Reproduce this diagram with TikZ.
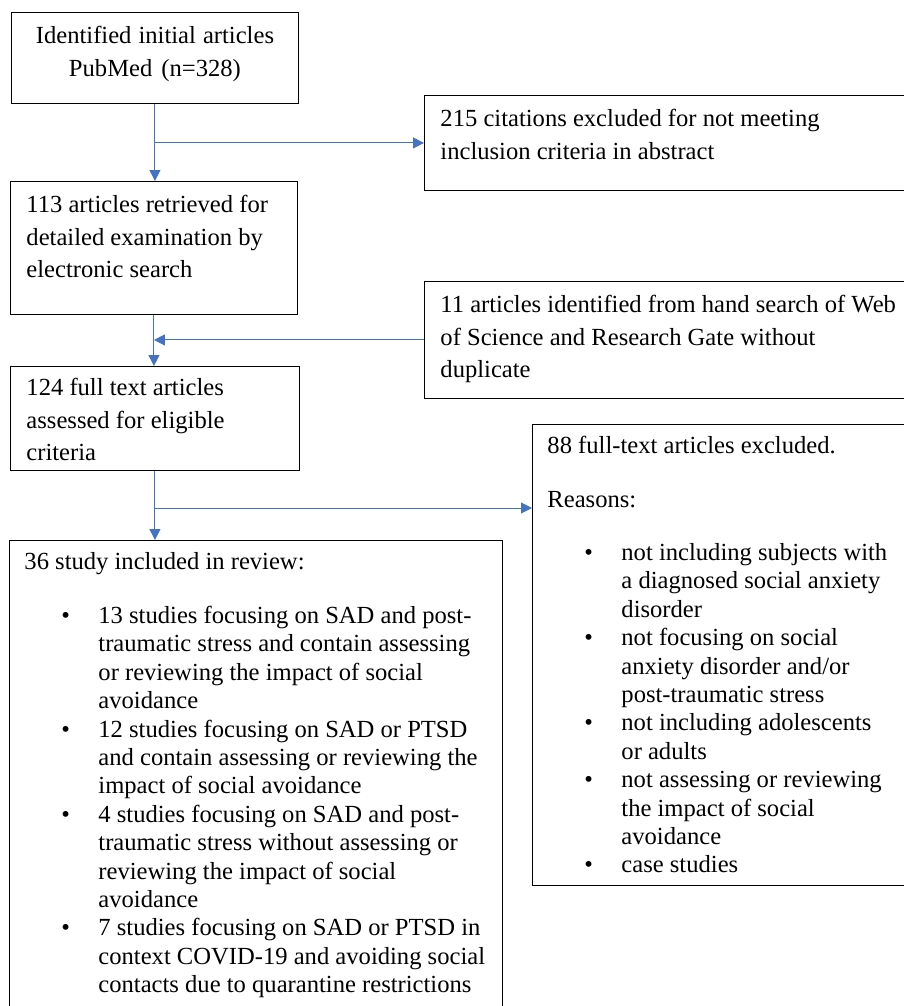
\documentclass[tikz,border=0pt]{standalone}
\usepackage{fontspec}
\setmainfont{Liberation Serif}
\usetikzlibrary{arrows.meta}
\definecolor{flowblue}{HTML}{4472C4}
\newcommand{\bul}{\hspace*{37pt}\makebox[37pt][l]{\textbullet}}
\newcommand{\cont}{\hspace*{74pt}}

\begin{document}
\begin{tikzpicture}[x=1pt, y=-1pt,
    box/.style = {draw, line width=0.9pt, anchor=north west, inner ysep=0pt, align=left, font=\fontsize{24.6}{32.6}\selectfont,
        execute at begin node={\spaceskip=0pt\xspaceskip=0pt\relax}},
    listbox/.style = {box, font=\fontsize{24.6}{28.4}\selectfont},
    arr/.style = {draw=flowblue, line width=1pt, -{Triangle[length=11pt, width=11pt]}}]
\clip (0,0) rectangle (904,1006);
% left column
\node[box, align=center, inner xsep=10pt, text width=267pt, text height=31pt, text depth=60pt] (init) at (11,12)
    {Identified initial articles\\PubMed (n=328)};
\node[box, inner xsep=16pt, text width=255pt, text height=31pt, text depth=102pt] (ret) at (10,181)
    {113 articles retrieved for\\detailed examination by\\electronic search};
\node[box, inner xsep=16pt, text width=257pt, text height=29pt, text depth=75pt] (full) at (10,366)
    {124 full text articles\\assessed for eligible\\criteria};
\node[listbox, inner xsep=15pt, text width=463pt, text height=29pt, text depth=500pt] (incl) at (9,540)
    {36 study included in review:\\[25.6pt]
     \bul 13 studies focusing on SAD and post-\\
     \cont traumatic stress and contain assessing\\
     \cont or reviewing the impact of social\\
     \cont avoidance\\
     \bul 12 studies focusing on SAD or PTSD\\
     \cont and contain assessing or reviewing the\\
     \cont impact of social avoidance\\
     \bul 4 studies focusing on SAD and post-\\
     \cont traumatic stress without assessing or\\
     \cont reviewing the impact of social\\
     \cont avoidance\\
     \bul 7 studies focusing on SAD or PTSD in\\
     \cont context COVID-19 and avoiding social\\
     \cont contacts due to quarantine restrictions};
% right column
\node[box, inner xsep=16pt, text width=468pt, text height=31pt, text depth=64pt] (excl1) at (424,95)
    {215 citations excluded for not meeting\\inclusion criteria in abstract};
\node[box, inner xsep=16pt, text width=468pt, text height=31pt, text depth=86pt] (hand) at (424,281)
    {11 articles identified from hand search of Web\\of Science and Research Gate without\\duplicate};
\node[listbox, inner xsep=15pt, text width=370pt, text height=29pt, text depth=432pt] (excl2) at (532,424)
    {88 full-text articles excluded.\\[25.6pt]
     Reasons:\\[24.6pt]
     \bul not including subjects with\\
     \cont a diagnosed social anxiety\\
     \cont disorder\\
     \bul not focusing on social\\
     \cont anxiety disorder and/or\\
     \cont post-traumatic stress\\
     \bul not including adolescents\\
     \cont or adults\\
     \bul not assessing or reviewing\\
     \cont the impact of social\\
     \cont avoidance\\
     \bul case studies};
% connectors
\draw[arr] (init.south) -- (init.south |- ret.north);
\draw[arr] (init.south |- excl1.west) -- (excl1.west);
\draw[arr] (ret.south) -- (ret.south |- full.north);
\draw[arr] (hand.west) -- (ret.south |- hand.west);
\draw[arr] (full.south) -- (full.south |- incl.north);
\coordinate (fork) at (full.south |- 0,508);
\draw[arr] (fork) -- (fork -| excl2.west);
\end{tikzpicture}
\end{document}
